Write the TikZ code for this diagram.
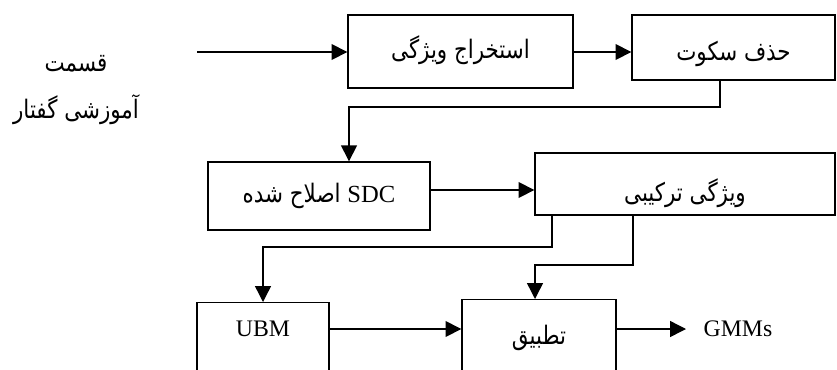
\documentclass[tikz,border=0pt]{standalone}
\usepackage{fontspec}
\setmainfont{Liberation Serif}
\newfontfamily\fa[Script=Arabic,FakeStretch=0.84]{DejaVu Sans}
\TeXXeTstate=1
\usetikzlibrary{arrows.meta,positioning}

\newcommand{\fatext}[2][0pt]{\raisebox{#1}[\height][\depth]{\fa\beginR #2\endR}}

\begin{document}
\begin{tikzpicture}[x=0.02cm,y=-0.02cm,line width=0.8pt,
    box/.style={draw,rectangle,inner sep=0pt,font=\fontsize{14.5}{16}\selectfont},
    cutbox/.style={box,anchor=north},
    arr/.style={-{Triangle[length=9pt,width=9pt]}}]
  \useasboundingbox (0,0) rectangle (837,369);
  \clip (0,0) rectangle (837,369);

  \node[align=center,font=\fontsize{14.5}{27}\selectfont] (src) at (76,90)
        {\fatext{قسمت}\\\fatext{آموزشی گفتار}};
  \node[box,minimum width=4.5cm,minimum height=1.46cm]  (extract) at (460.5,51.5) {\fatext[1pt]{استخراج ویژگی}};
  \node[box,minimum width=4.06cm,minimum height=1.3cm]  (silence) at (733.5,47.5) {\fatext[-3.5pt]{حذف سکوت}};
  \node[box,minimum width=4.44cm,minimum height=1.36cm] (sdc)     at (319,196)
        {\fatext{\beginL{\rmfamily\fontsize{14}{16}\selectfont SDC}\endL{} اصلاح شده}};
  \node[box,minimum width=6cm,minimum height=1.24cm]    (comb)    at (685,184)    {\fatext[-5pt]{ویژگی ترکیبی}};
  \node[cutbox,minimum width=2.64cm,text height=0.68cm,text depth=1.3cm,
        font=\fontsize{13.5}{15}\selectfont] (ubm)   at (263,302) {UBM};
  \node[cutbox,minimum width=3.08cm,text height=0.86cm,text depth=1.2cm] (adapt) at (539,299) {\fatext[-1pt]{تطبیق}};
  \node[anchor=west,inner xsep=0.34cm,font=\fontsize{13.5}{15}\selectfont] (gmm) at (686,329) {GMMs};

  \coordinate (in) at (197,52);
  \coordinate (k1) at (720,107);
  \coordinate (k2) at (349,107);
  \coordinate (k3) at (552,247);
  \coordinate (k4) at (263,247);
  \coordinate (k5) at (633,265);
  \coordinate (k6) at (535,265);
  \coordinate (k7) at (0,329);

  \draw[arr] (in) -- (extract.west |- in);
  \draw[arr] (extract.east |- in) -- (silence.west |- in);
  \draw[arr] (silence.south -| k1) -- (k1) -- (k2) -- (sdc.north -| k2);
  \draw[arr] (sdc.east |- 0,190) -- (comb.west |- 0,190);
  \draw[arr] (comb.south -| k3) -- (k3) -- (k4) -- (ubm.north);
  \draw[arr] (comb.south -| k5) -- (k5) -- (k6) -- (adapt.north -| k6);
  \draw[arr] (ubm.east |- k7) -- (adapt.west |- k7);
  \draw[arr] (adapt.east |- k7) -- (gmm.west);
\end{tikzpicture}
\end{document}
